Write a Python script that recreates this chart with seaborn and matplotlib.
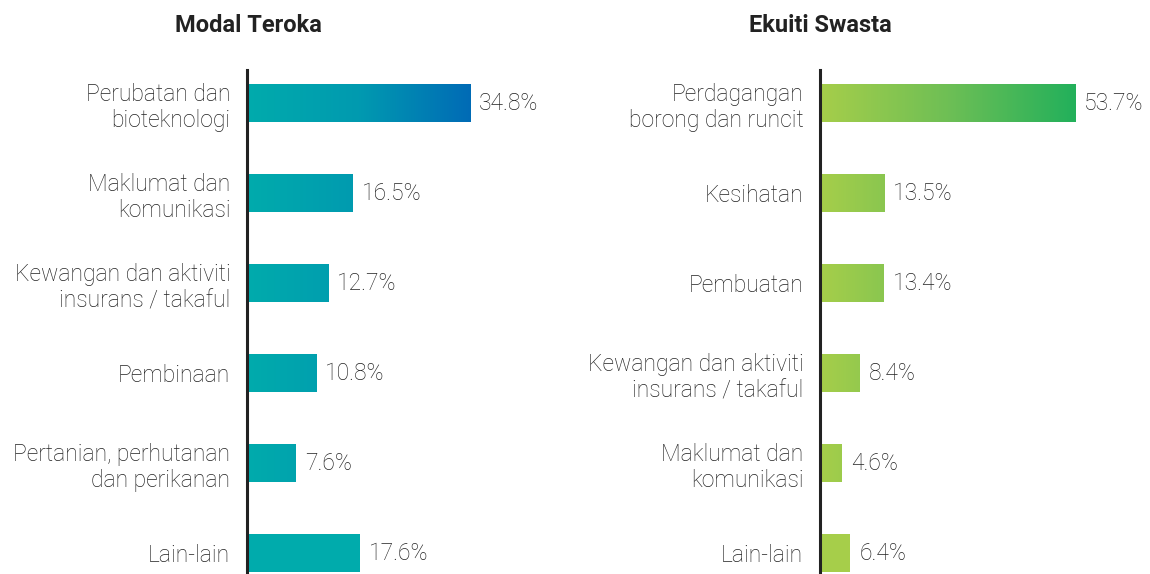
import numpy as np
import pandas as pd
import matplotlib.pyplot as plt
import matplotlib.colors as mcolors
import seaborn as sns

# Data
vc_sectors = ["Perubatan dan\nbioteknologi", "Maklumat dan\nkomunikasi",
              "Kewangan dan aktiviti\ninsurans / takaful", "Pembinaan",
              "Pertanian, perhutanan\ndan perikanan", "Lain-lain"]
vc_values = [34.8, 16.5, 12.7, 10.8, 7.6, 17.6]

pe_sectors = ["Perdagangan\nborong dan runcit", "Kesihatan", "Pembuatan",
              "Kewangan dan aktiviti\ninsurans / takaful", "Maklumat dan\nkomunikasi",
              "Lain-lain"]
pe_values = [53.7, 13.5, 13.4, 8.4, 4.6, 6.4]

sns.set_style("white")
plt.rcParams["font.family"] = ["Roboto", "DejaVu Sans"]

fig = plt.figure(figsize=(11.5, 5.74), dpi=100)
text_color = "#222222"


def draw_panel(ax, sectors, values, colors, xmax, title, title_x):
    df = pd.DataFrame({"sector": sectors, "value": values})
    sns.barplot(data=df, x="value", y="sector", ax=ax, width=0.42,
                color=colors[0], saturation=1, orient="h")
    cmap = mcolors.LinearSegmentedColormap.from_list("g", colors)
    grad = np.linspace(0, 1, 256).reshape(1, -1)
    vmax = max(values)
    for i, (patch, v) in enumerate(zip(ax.patches, values)):
        y0 = patch.get_y()
        h = patch.get_height()
        patch.set_edgecolor("none")
        # last category ("Lain-lain") is a flat colour
        if i < len(values) - 1:
            patch.set_facecolor("none")
            im = ax.imshow(grad, cmap=cmap, aspect="auto",
                           extent=(0, vmax, y0 + h, y0), zorder=2)
            im.set_clip_path(patch)
        else:
            patch.set_facecolor(colors[0])
        ax.text(v + xmax * 0.03, y0 + h / 2, f"{v}%", va="center", ha="left",
                fontsize=16.5, fontweight="light", color=text_color)
    ax.set_xlim(0, xmax)
    ax.set_ylim(5.233, -0.367)
    ax.set_xlabel("")
    ax.set_ylabel("")
    ax.set_xticks([])
    ax.tick_params(axis="y", length=0, pad=12)
    for lbl in ax.get_yticklabels():
        lbl.set_fontsize(16.5)
        lbl.set_fontweight("light")
        lbl.set_color(text_color)
        lbl.set_multialignment("right")
    for s in ["top", "right", "bottom"]:
        ax.spines[s].set_visible(False)
    ax.spines["left"].set_color("#222222")
    ax.spines["left"].set_linewidth(2.2)
    ax.spines["left"].set_zorder(3)
    fig.text(title_x, 1 - 25 / 574, title, ha="center", va="center",
             fontsize=17, fontweight="bold", color="#222222")


ax1 = fig.add_axes([247 / 1150, 0, 300 / 1150, 504 / 574])
draw_panel(ax1, vc_sectors, vc_values, ["#00ABAC", "#009AB0", "#006BB6"],
           300 / 6.41, "Modal Teroka", 248 / 1150)

ax2 = fig.add_axes([820 / 1150, 0, 300 / 1150, 504 / 574])
draw_panel(ax2, pe_sectors, pe_values, ["#A6CE4A", "#6EBF55", "#22B05B"],
           300 / 4.75, "Ekuiti Swasta", 820 / 1150)

fig.savefig("out.png", dpi=100)
